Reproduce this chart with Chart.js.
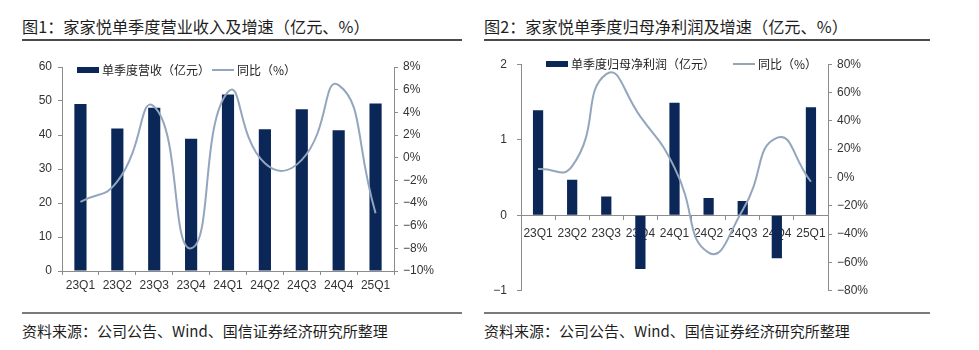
<!DOCTYPE html>
<html>
<head>
<meta charset="utf-8">
<script src="https://cdn.jsdelivr.net/npm/chart.js@4.4.1/dist/chart.umd.min.js"></script>
<style>
	body { margin: 0; width: 979px; height: 350px; background: #fff; position: relative; overflow: hidden; font-family: "Noto Sans CJK SC", sans-serif; }
	.titolo { position: absolute; top: 16px; font-size: 16.2px; line-height: 21px; color: #1e1e1e; border-bottom: 2px solid #4a4a4a; padding-bottom: 2px; white-space: nowrap; }
	.fonte { position: absolute; top: 312px; border-top: 2px solid #7a7a7a; padding-top: 8px; font-size: 15px; line-height: 18px; color: #1e1e1e; white-space: nowrap; }
	.box { position: absolute; }
	.leg { position: absolute; font-size: 12px; line-height: 14px; color: #222; white-space: nowrap; display: flex; align-items: center; }
	.leg i { display: inline-block; width: 22px; margin-right: 3px; }
	.leg .b { height: 6px; background: #0b2757; }
	.leg .l { height: 2px; background: #93a6bd; }
</style>
</head>
<body>
<div class="titolo" style="left:22px; width:440px;">图1：家家悦单季度营业收入及增速（亿元、%）</div>
<div class="titolo" style="left:484px; width:446px;">图2：家家悦单季度归母净利润及增速（亿元、%）</div>

<div class="box" style="left:20px; top:50px; width:460px; height:250px;"><canvas id="grafico-ricavi"></canvas></div>
<div class="box" style="left:480px; top:47px; width:480px; height:261px;"><canvas id="grafico-utile"></canvas></div>

<div class="leg" style="left:77px; top:63px;"><i class="b"></i>单季度营收（亿元）</div>
<div class="leg" style="left:212px; top:63px;"><i class="l"></i>同比（%）</div>
<div class="leg" style="left:546px; top:57px;"><i class="b"></i>单季度归母净利润（亿元）</div>
<div class="leg" style="left:733px; top:57px;"><i class="l"></i>同比（%）</div>

<div class="fonte" style="left:22px; width:440px;">资料来源：公司公告、Wind、国信证券经济研究所整理</div>
<div class="fonte" style="left:484px; width:446px;">资料来源：公司公告、Wind、国信证券经济研究所整理</div>

<script>
const trimestri = ['23Q1', '23Q2', '23Q3', '23Q4', '24Q1', '24Q2', '24Q3', '24Q4', '25Q1'];

// Grafico 1: ricavi trimestrali (亿元) e crescita a/a (%)
const ricavi = [49.1, 41.9, 48.0, 38.9, 51.9, 41.7, 47.6, 41.4, 49.3];
const ricaviYoY = [-3.9, -2.1, 4.5, -8.0, 5.8, -0.5, -0.2, 6.4, -4.9];

// Grafico 2: utile netto trimestrale (亿元) e crescita a/a (%)
const utile = [1.39, 0.47, 0.25, -0.71, 1.49, 0.23, 0.19, -0.57, 1.43];
const utileYoY = [6, 8, 73, 43, 7, -53, -23, 28, -3];

const BLU = '#0b2757';
const GRIGIO_LINEA = '#93a6bd';
const ASSE = '#8c8c8c';
const FONT = { family: '"Liberation Sans", "Noto Sans CJK SC", sans-serif', size: 12 };

Chart.defaults.color = '#333';
Chart.defaults.font = FONT;
Chart.defaults.animation = false;

// formato con il segno meno tipografico
function pct(v) {
	return (v < 0 ? '\u2212' + Math.abs(v) : v) + '%';
}
function num(v) {
	return v < 0 ? '\u2212' + Math.abs(v) : '' + v;
}

function assi(sinistra, destra, xSuZero) {
	let grid = { drawOnChartArea: false, color: ASSE, tickLength: 4 };
	let border = { color: ASSE, width: 1 };
	return {
		x: {
			position: xSuZero ? { y: 0 } : 'bottom',
			grid: { ...grid, offset: true },
			border,
			ticks: { padding: xSuZero ? 7 : 3, maxRotation: 0 },
			afterFit: s => { s.height = xSuZero ? 0 : 29; },
		},
		y: {
			position: 'left',
			min: sinistra.min, max: sinistra.max,
			grid, border,
			ticks: { stepSize: sinistra.step, padding: sinistra.pad, callback: num },
			afterFit: s => { s.width = sinistra.w; },
		},
		y1: {
			position: 'right',
			min: destra.min, max: destra.max,
			grid, border,
			ticks: { stepSize: destra.step, padding: destra.pad, callback: pct },
			afterFit: s => { s.width = destra.w; },
		},
	};
}

function serie(barre, linea, labelBarre, percBarre) {
	return [
		{
			type: 'line',
			label: '同比（%）',
			data: linea,
			yAxisID: 'y1',
			borderColor: GRIGIO_LINEA,
			borderWidth: 2,
			pointRadius: 0,
			tension: 0.55,
			order: 1,
		},
		{
			type: 'bar',
			label: labelBarre,
			data: barre,
			yAxisID: 'y',
			backgroundColor: BLU,
			barPercentage: percBarre,
			categoryPercentage: 1,
			order: 2,
		},
	];
}

new Chart(document.getElementById('grafico-ricavi'), {
	data: {
		labels: trimestri,
		datasets: serie(ricavi, ricaviYoY, '单季度营收（亿元）', 0.33),
	},
	options: {
		responsive: true,
		maintainAspectRatio: false,
		layout: { padding: { top: 17, bottom: 0 } },
		plugins: { legend: { display: false }, tooltip: { enabled: false } },
		scales: assi(
			{ min: 0, max: 60, step: 10, pad: 6, w: 42 },
			{ min: -10, max: 8, step: 2, pad: 5, w: 86 },
			false
		),
	},
});

new Chart(document.getElementById('grafico-utile'), {
	data: {
		labels: trimestri,
		datasets: serie(utile, utileYoY, '单季度归母净利润（亿元）', 0.3),
	},
	options: {
		responsive: true,
		maintainAspectRatio: false,
		layout: { padding: { top: 11, bottom: 2 } },
		plugins: { legend: { display: false }, tooltip: { enabled: false } },
		scales: assi(
			{ min: -1, max: 2, step: 1, pad: 10, w: 41 },
			{ min: -80, max: 80, step: 20, pad: 5, w: 132 },
			true
		),
	},
});
</script>
</body>
</html>
